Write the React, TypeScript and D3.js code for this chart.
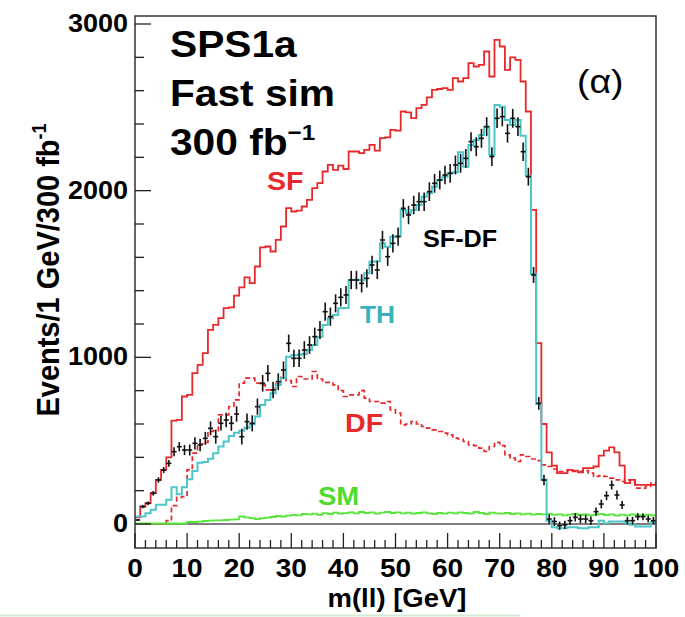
import React from "react";
import * as d3 from "d3";

// 1 GeV bins, 0..100 GeV
const SF = [40,105,125,185,265,325,400,620,625,765,775,905,955,1025,1165,1195,1235,1295,1300,1370,
1420,1480,1445,1545,1660,1665,1635,1705,1785,1895,1875,1880,1905,1945,2015,2045,2115,2155,2125,2150,
2130,2235,2235,2225,2245,2275,2240,2315,2320,2365,2360,2475,2470,2435,2495,2515,2560,2605,2610,2615,
2605,2675,2655,2675,2765,2745,2755,2835,2685,2905,2865,2725,2800,2785,2655,2475,1885,1085,600,430,
350,305,305,325,320,310,335,335,345,410,440,460,430,350,245,265,235,235,235,235];

const DF = [0,0,0,0,0,0,20,110,160,165,325,425,480,490,555,560,655,655,705,745,
845,875,875,845,835,805,810,840,880,860,825,885,870,870,915,870,850,850,835,800,
765,775,775,800,755,735,735,725,735,685,665,595,600,615,600,585,575,565,555,545,
535,515,510,495,475,470,455,435,465,490,470,415,395,375,415,405,390,380,355,345,
330,315,315,325,315,315,320,305,285,290,285,275,265,255,265,250,215,215,225,245];

const TH = [45,45,65,85,115,115,145,220,178,220,268,318,368,372,392,425,465,495,528,548,
560,578,598,645,714,744,784,834,876,1004,1012,1016,1020,1044,1074,1124,1194,1234,1254,1294,
1296,1464,1466,1462,1504,1574,1576,1684,1664,1724,1728,1884,1864,1884,1914,1964,1984,2024,2064,2084,
2104,2110,2230,2144,2274,2304,2334,2384,2214,2514,2504,2424,2394,2424,2330,2090,1500,720,265,20,
-20,-25,-25,-20,-20,-25,-25,-20,-20,20,5,15,15,15,5,-5,-15,-15,-15,10];

const SM = [3,3,3,3,3,3,3,3,3,3,12,12,14,18,20,22,22,24,26,28,
45,40,35,30,35,38,42,48,45,50,55,52,60,58,62,55,65,60,68,62,
65,70,64,72,66,70,62,68,72,66,70,64,68,62,66,70,64,60,66,62,
68,64,70,66,62,72,66,60,68,64,62,66,60,64,58,62,56,60,58,62,
55,58,52,56,60,54,58,52,56,60,54,58,50,56,52,58,54,50,56,52];

const DATA = [24,104,124,184,264,324,364,434,464,444,444,484,474,514,574,524,604,624,604,660,
524,614,604,704,844,904,804,854,924,1084,994,994,1044,1074,1124,1164,1274,1244,1324,1360,
1374,1464,1464,1444,1474,1554,1524,1704,1604,1684,1724,1894,1854,1914,1934,1934,1994,2044,2064,2094,
2104,2154,2164,2194,2294,2264,2314,2384,2204,2434,2444,2344,2434,2384,2234,2084,1494,724,264,30,
15,-10,-5,20,40,30,30,20,74,120,170,234,174,114,20,20,44,44,30,20];

const X_MAJOR = [0,10,20,30,40,50,60,70,80,90,100];
const Y_MAJOR = [0,1000,2000,3000];

const FONT = "'Liberation Sans', Arial, Helvetica, sans-serif";
const RED = "#e8292b";
const CYAN = "#4ec6c8";
const GREEN = "#58e63a";

const W = 685, H = 617;
const L = 135, R = 656, T = 16, B = 548;

const x = d3.scaleLinear().domain([0, 100]).range([L, R]);
const y = d3.scaleLinear().domain([-144, 3048]).range([B, T]);

function stepPath(vals: number[]): string {
  let d = `M${x(0)},${y(vals[0])}`;
  for (let i = 0; i < vals.length; i++) {
    d += `H${x(i + 1)}`;
    if (i + 1 < vals.length) d += `V${y(vals[i + 1])}`;
  }
  return d;
}

function T2(props: { x: number; y: number; sx?: number; size: number; anchor?: string; weight?: string; fill?: string; children: any }) {
  const { sx = 1.1, size, anchor = "start", weight = "bold", fill = "#000" } = props;
  const tr = `translate(${props.x},${props.y}) scale(${sx},1)`;
  return (
    <text transform={tr} fontSize={size} fontFamily={FONT} fontWeight={weight} textAnchor={anchor as any} fill={fill}>
      {props.children}
    </text>
  );
}

export default function App() {
  const minorX = d3.range(0, 101, 2).filter((v) => v % 10 !== 0);
  const minorY = d3.range(0, 3001, 200).filter((v) => v % 1000 !== 0);
  return (
    <svg width={W} height={H} style={{ position: "absolute", left: 0, top: 0, background: "#fff" }}>
      <rect x={0} y={0} width={W} height={H} fill="#fff" />
      <defs>
        <clipPath id="plot">
          <rect x={L} y={T} width={R - L} height={B - T} />
        </clipPath>
      </defs>
      <line x1={L} x2={R} y1={y(0)} y2={y(0)} stroke="#555" strokeWidth={1.5} />
      <g clipPath="url(#plot)" fill="none">
        <path d={stepPath(SF)} stroke={RED} strokeWidth={1.8} />
        <path d={stepPath(DF)} stroke={RED} strokeWidth={1.7} strokeDasharray="5,3" />
        <path d={stepPath(SM)} stroke={GREEN} strokeWidth={1.8} />
        <path d={stepPath(TH)} stroke={CYAN} strokeWidth={2} />
        {DATA.map((v, i) => {
          const e = Math.sqrt(Math.max(SF[i] + DF[i], 1));
          return (
            <g key={i} stroke="#111" strokeWidth={1.6}>
              <line x1={x(i + 0.5)} x2={x(i + 0.5)} y1={y(v - e)} y2={y(v + e)} />
              <line x1={x(i + 0.02)} x2={x(i + 0.98)} y1={y(v)} y2={y(v)} />
            </g>
          );
        })}
      </g>
      <rect x={L} y={T} width={R - L} height={B - T} fill="none" stroke="#333" strokeWidth={1.5} />
      {X_MAJOR.map((v) => (
        <line key={"xM" + v} x1={x(v)} x2={x(v)} y1={B} y2={B - 15} stroke="#222" strokeWidth={1.3} />
      ))}
      {minorX.map((v) => (
        <line key={"xm" + v} x1={x(v)} x2={x(v)} y1={B} y2={B - 8} stroke="#222" strokeWidth={1.3} />
      ))}
      {Y_MAJOR.map((v) => (
        <line key={"yM" + v} x1={L} x2={L + 16} y1={y(v)} y2={y(v)} stroke="#222" strokeWidth={1.3} />
      ))}
      {minorY.map((v) => (
        <line key={"ym" + v} x1={L} x2={L + 9} y1={y(v)} y2={y(v)} stroke="#222" strokeWidth={1.3} />
      ))}
      {Y_MAJOR.map((v) => (
        <T2 key={"yl" + v} x={128} y={y(v) + 8} size={25} anchor="end" sx={1.08}>{String(v)}</T2>
      ))}
      {X_MAJOR.map((v) => (
        <T2 key={"xl" + v} x={x(v)} y={577} size={25} anchor="middle" sx={1.12}>{String(v)}</T2>
      ))}
      <T2 x={397} y={607} size={25} anchor="middle" sx={1.1}>m(ll) [GeV]</T2>
      <text transform={`translate(59,270) scale(1.08,1) rotate(-90)`} fontSize={29} fontFamily={FONT} fontWeight="bold" textAnchor="middle">
        Events/1 GeV/300 fb<tspan fontSize={18} dy={-12}>-1</tspan>
      </text>
      <T2 x={170} y={57} size={37}>SPS1a</T2>
      <T2 x={170} y={106} size={37}>Fast sim</T2>
      <T2 x={170} y={155} size={37}>
        300 fb<tspan fontSize={22} dy={-15}>−1</tspan>
      </T2>
      <T2 x={577} y={93} size={34} weight="normal">(α)</T2>
      <T2 x={267} y={190} size={26} fill={RED}>SF</T2>
      <T2 x={423} y={247} size={24} sx={1.05}>SF-DF</T2>
      <T2 x={360} y={323} size={24} fill="#3bb2bb">TH</T2>
      <T2 x={345} y={432} size={26} fill={RED}>DF</T2>
      <T2 x={318} y={505} size={25} fill="#4fdc2e">SM</T2>
      <line x1={0} x2={520} y1={615.5} y2={615.5} stroke="#d6ebd6" strokeWidth={2} />
    </svg>
  );
}
